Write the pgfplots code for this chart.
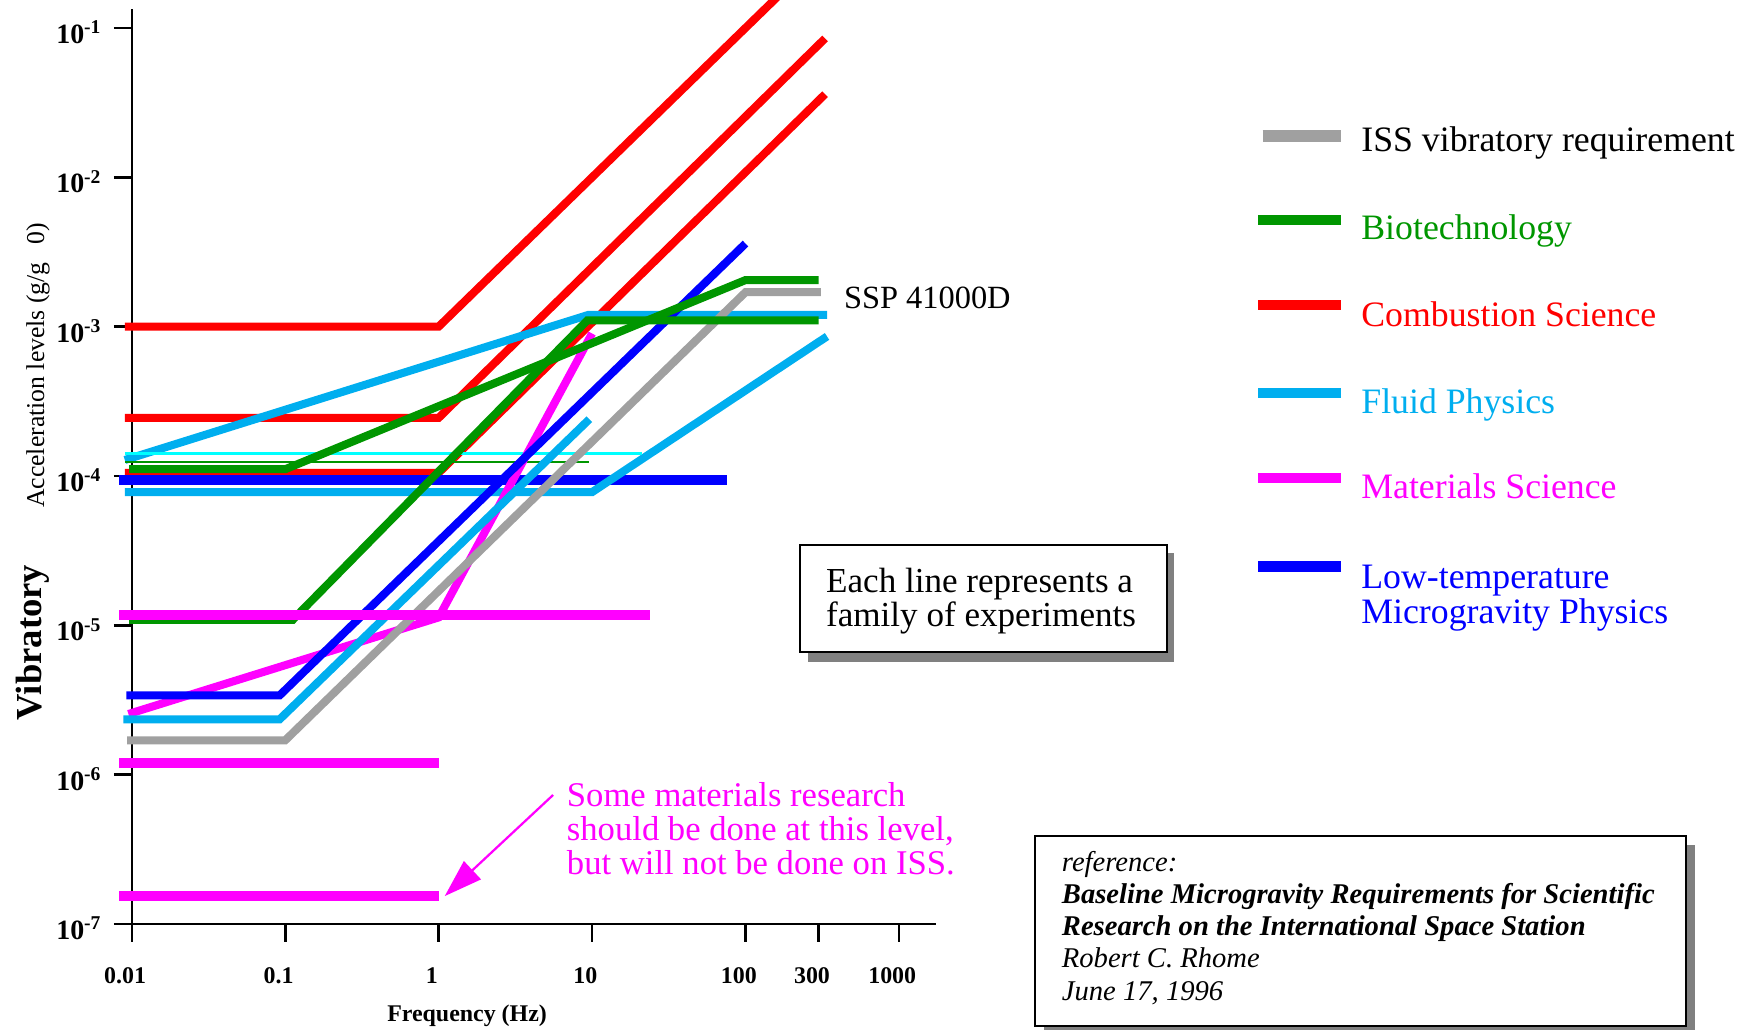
\documentclass[border=0pt]{standalone}
\usepackage{fontspec}
\setmainfont{Liberation Serif}
\usepackage{pgfplots}
\pgfplotsset{compat=1.18}
\usetikzlibrary{arrows.meta}
\definecolor{issgray}{RGB}{160,160,160}
\definecolor{bgreen}{RGB}{0,150,0}
\definecolor{cred}{RGB}{255,0,0}
\definecolor{fblue}{RGB}{0,174,239}
\definecolor{mmag}{RGB}{255,0,255}
\definecolor{lblue}{RGB}{0,0,255}
\definecolor{tcyan}{RGB}{0,255,255}
\definecolor{shadowgray}{RGB}{128,128,128}
\begin{document}
\begin{tikzpicture}[x=0.5pt,y=0.5pt]
\begin{axis}[
  at={(59pt,47pt)}, anchor=south west,
  scale only axis, width=360pt, height=409.5pt,
  xmode=log, ymode=log,
  xmin=0.01, xmax=1754, ymin=1e-7, ymax=0.134,
  axis x line=bottom, axis y line=left,
  axis line style={-, line width=1.2pt, black},
  tick style={black, line width=1.2pt},
  tick align=outside, major tick length=8pt,
  xminorticks=false, yminorticks=false,
  xtick={0.01,0.1,1,10,100,300,1000},
  xticklabels={0.01,0.1,1,10,100,300,1000},
  ytick={1e-7,1e-6,1e-5,1e-4,1e-3,1e-2,1e-1},
  yticklabels={10\textsuperscript{-7},10\textsuperscript{-6},10\textsuperscript{-5},10\textsuperscript{-4},10\textsuperscript{-3},10\textsuperscript{-2},10\textsuperscript{-1}},
  xticklabel style={font=\fontsize{10.7}{12}\selectfont\bfseries, yshift=-8pt, xshift=-3pt},
  yticklabel style={font=\fontsize{12.5}{13}\selectfont\bfseries, yshift=-2pt, xshift=-2pt},
  clip=false,
  every axis plot/.append style={no markers, line cap=butt, line join=miter},
]
% Combustion Science
\addplot[cred, line width=3.6pt] coordinates {(0.009,1e-3) (1,1e-3) (200,0.2)};
\addplot[cred, line width=3.6pt] coordinates {(0.009,2.45e-4) (1,2.45e-4) (330,0.085)};
\addplot[cred, line width=3.6pt] coordinates {(0.009,1.05e-4) (1,1.05e-4) (330,0.036)};
% Low-temperature (horizontal)
\addplot[lblue, line width=4.6pt] coordinates {(0.0083,9.4e-5) (76,9.4e-5)};
% Fluid Physics
\addplot[fblue, line width=3.6pt] coordinates {(0.009,1.28e-4) (9.5,1.2e-3) (340,1.2e-3)};
\addplot[fblue, line width=3.6pt] coordinates {(0.009,7.8e-5) (10,7.8e-5) (340,8.6e-4)};
\addplot[tcyan, line width=1.3pt] coordinates {(0.009,1.41e-4) (21,1.41e-4)};
% Biotechnology (thin)
\addplot[bgreen, line width=1pt] coordinates {(0.009,1.24e-4) (9.5,1.24e-4)};
% Materials Science (sloped)
\addplot[mmag, line width=3.6pt] coordinates {(0.0095,2.55e-6) (1,1.13e-5) (10,9e-4)};
% Low-temperature (sloped)
\addplot[lblue, line width=3.6pt] coordinates {(0.0092,3.4e-6) (0.092,3.4e-6) (100,3.6e-3)};
% Fluid Physics (sloped)
\addplot[fblue, line width=3.6pt] coordinates {(0.0088,2.35e-6) (0.092,2.35e-6) (9.6,2.4e-4)};
% ISS requirement
\addplot[issgray, line width=3.6pt] coordinates {(0.0093,1.7e-6) (0.1,1.7e-6) (100,1.7e-3) (310,1.7e-3)};
% Biotechnology
\addplot[bgreen, line width=3.6pt] coordinates {(0.0096,1.09e-5) (0.112,1.09e-5) (9.3,1.1e-3) (300,1.1e-3)};
\addplot[bgreen, line width=3.6pt] coordinates {(0.0096,1.11e-4) (0.1,1.11e-4) (100,2.05e-3) (300,2.05e-3)};
% Materials Science (horizontal)
\addplot[mmag, line width=4.5pt] coordinates {(0.0083,1.18e-5) (24,1.18e-5)};
\addplot[mmag, line width=4.5pt] coordinates {(0.0083,1.2e-6) (1,1.2e-6)};
\addplot[mmag, line width=4.5pt] coordinates {(0.0083,1.55e-7) (1,1.55e-7)};
\draw[line width=1.2pt] (axis cs:0.01,1e-7) -- ++(-5.5pt,0pt);
\end{axis}
% axis titles
\node[rotate=90, font=\fontsize{11.5}{13}\selectfont] at (34,594) {Acceleration levels (g/g\hspace{0.7em}0)};
\node[rotate=90, font=\fontsize{16.4}{18}\selectfont\bfseries] at (29,346) {Vibratory};
\node[anchor=base, font=\fontsize{10.7}{12}\selectfont\bfseries, inner sep=0pt] at (418,7) {Frequency (Hz)};
% SSP label
\node[anchor=base west, inner sep=0pt, font=\fontsize{14.5}{16}\selectfont] at (755,645) {SSP 41000D};
% legend
\draw[issgray, line width=5.5pt] (1130,799) -- (1200,799);
\draw[bgreen, line width=4.5pt] (1126,724) -- (1200,724);
\draw[cred, line width=4.5pt] (1126,648) -- (1200,648);
\draw[fblue, line width=4.5pt] (1126,569) -- (1200,569);
\draw[mmag, line width=4.5pt] (1126,493) -- (1200,493);
\draw[lblue, line width=4.5pt] (1126,414) -- (1200,414);
\begin{scope}[every node/.style={anchor=base west, inner sep=0pt, font=\fontsize{16}{17}\selectfont}]
\node at (1218,785) {ISS vibratory requirement};
\node[text=bgreen] at (1218,707) {Biotechnology};
\node[text=cred] at (1218,629) {Combustion Science};
\node[text=fblue] at (1218,551) {Fluid Physics};
\node[text=mmag] at (1218,475) {Materials Science};
\node[text=lblue] at (1218,394) {Low-temperature};
\node[text=lblue] at (1218,363) {Microgravity Physics};
\end{scope}
% box
\fill[shadowgray] (723,328.5) rectangle (1051,426);
\draw[fill=white, line width=0.9pt] (716,337.5) rectangle (1044,433);
\begin{scope}[every node/.style={anchor=base west, inner sep=0pt, font=\fontsize{15.7}{17}\selectfont}]
\node at (739,391) {Each line represents a};
\node at (739,360) {family of experiments};
\end{scope}
% annotation
\begin{scope}[every node/.style={anchor=base west, inner sep=0pt, text=mmag, font=\fontsize{15.5}{17}\selectfont}]
\node at (507,199) {Some materials research};
\node at (507,169) {should be done at this level,};
\node at (507,138) {but will not be done on ISS.};
\end{scope}
\draw[mmag, line width=1pt, -{Triangle[length=17pt,width=11pt]}] (495,209.5) -- (398,119);
% reference box
\fill[shadowgray] (934,-10) rectangle (1517,165);
\draw[fill=white, line width=0.9pt] (926,3) rectangle (1509,173);
\begin{scope}[every node/.style={anchor=base west, inner sep=0pt, font=\fontsize{12.8}{14}\selectfont}]
\node[font=\fontsize{12.8}{14}\selectfont\itshape] at (950,141) {reference:};
\node[font=\fontsize{12.8}{14}\selectfont\bfseries\itshape] at (950,112) {Baseline Microgravity Requirements for Scientific};
\node[font=\fontsize{12.8}{14}\selectfont\bfseries\itshape] at (950,84) {Research on the International Space Station};
\node[font=\fontsize{12.8}{14}\selectfont\itshape] at (950,55) {Robert C. Rhome};
\node[font=\fontsize{12.8}{14}\selectfont\itshape] at (950,26) {June 17, 1996};
\end{scope}
\pgfresetboundingbox
\path[use as bounding box] (0,0) rectangle (1568,921);
\end{tikzpicture}
\end{document}
